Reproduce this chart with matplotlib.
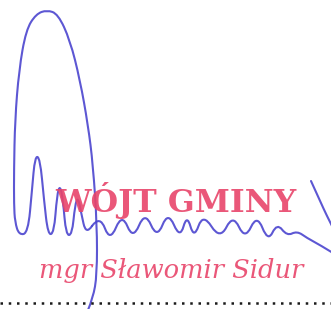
import matplotlib
matplotlib.use("Agg")
import matplotlib.pyplot as plt
from matplotlib.path import Path
from matplotlib.patches import PathPatch

# stamp texts
title_text = "WÓJT GMINY"
name_text = "mgr Sławomir Sidur"

# signature strokes, control points (image pixel coords, y down)
loop_x = [88, 93, 97, 97, 93, 88, 80, 70, 58, 47, 36, 26, 19, 15, 14, 14, 15, 19, 28, 32, 35, 40, 44, 48, 54, 57, 60, 63, 66, 72, 75, 78, 81, 86, 92]
loop_y = [310, 298, 275, 225, 165, 125, 80, 40, 14, 10, 14, 30, 70, 120, 170, 205, 222, 235, 233, 190, 156, 158, 200, 235, 233, 195, 185, 200, 235, 235, 205, 197, 212, 235, 226]
wave_x = [92, 100, 110, 122, 133, 145, 157, 168, 180, 187, 194, 203, 220, 233, 245, 257, 268, 277, 287, 297, 307, 320, 333]
wave_y = [226, 215, 242, 213, 240, 211, 239, 211, 239, 214, 239, 213, 240, 214, 240, 214, 242, 223, 236, 231, 238, 245, 253]
right_x = [311, 316, 321, 326, 332]
right_y = [181, 192, 203, 214, 226]

# dotted rule
rule_x = [0, 331]
rule_y = [303, 303]


def smooth_path(xs, ys):
    # quadratic bezier through the midpoints, control points as given
    pts = list(zip(xs, ys))
    verts = [pts[0]]
    codes = [Path.MOVETO]
    for i in range(1, len(pts) - 1):
        mid = ((pts[i][0] + pts[i + 1][0]) / 2, (pts[i][1] + pts[i + 1][1]) / 2)
        if i == len(pts) - 2:
            mid = pts[-1]
        verts += [pts[i], mid]
        codes += [Path.CURVE3, Path.CURVE3]
    return Path(verts, codes)


fig = plt.figure(figsize=(3.31, 3.09), dpi=100)
ax = fig.add_axes([0, 0, 1, 1])
ax.set_xlim(0, 331)
ax.set_ylim(309, 0)
ax.axis("off")

red = "#e8456a"
blue = "#4b45cf"

ax.text(176, 212, title_text, color=red, fontsize=22.8, family="DejaVu Serif",
        weight="bold", ha="center", va="baseline", alpha=0.9)
ax.text(171, 278, name_text, color=red, fontsize=18.5, family="DejaVu Serif",
        style="italic", ha="center", va="baseline", alpha=0.9)

ax.plot(rule_x, rule_y, color="#1a1a1a", lw=1.8, linestyle=(0, (1, 2.3)),
        dash_capstyle="butt")

for xs, ys in [(loop_x, loop_y), (wave_x, wave_y), (right_x, right_y)]:
    ax.add_patch(PathPatch(smooth_path(xs, ys), facecolor="none", edgecolor=blue,
                           lw=1.5, alpha=0.9, capstyle="round", joinstyle="round"))

fig.savefig("out.png", dpi=100)
